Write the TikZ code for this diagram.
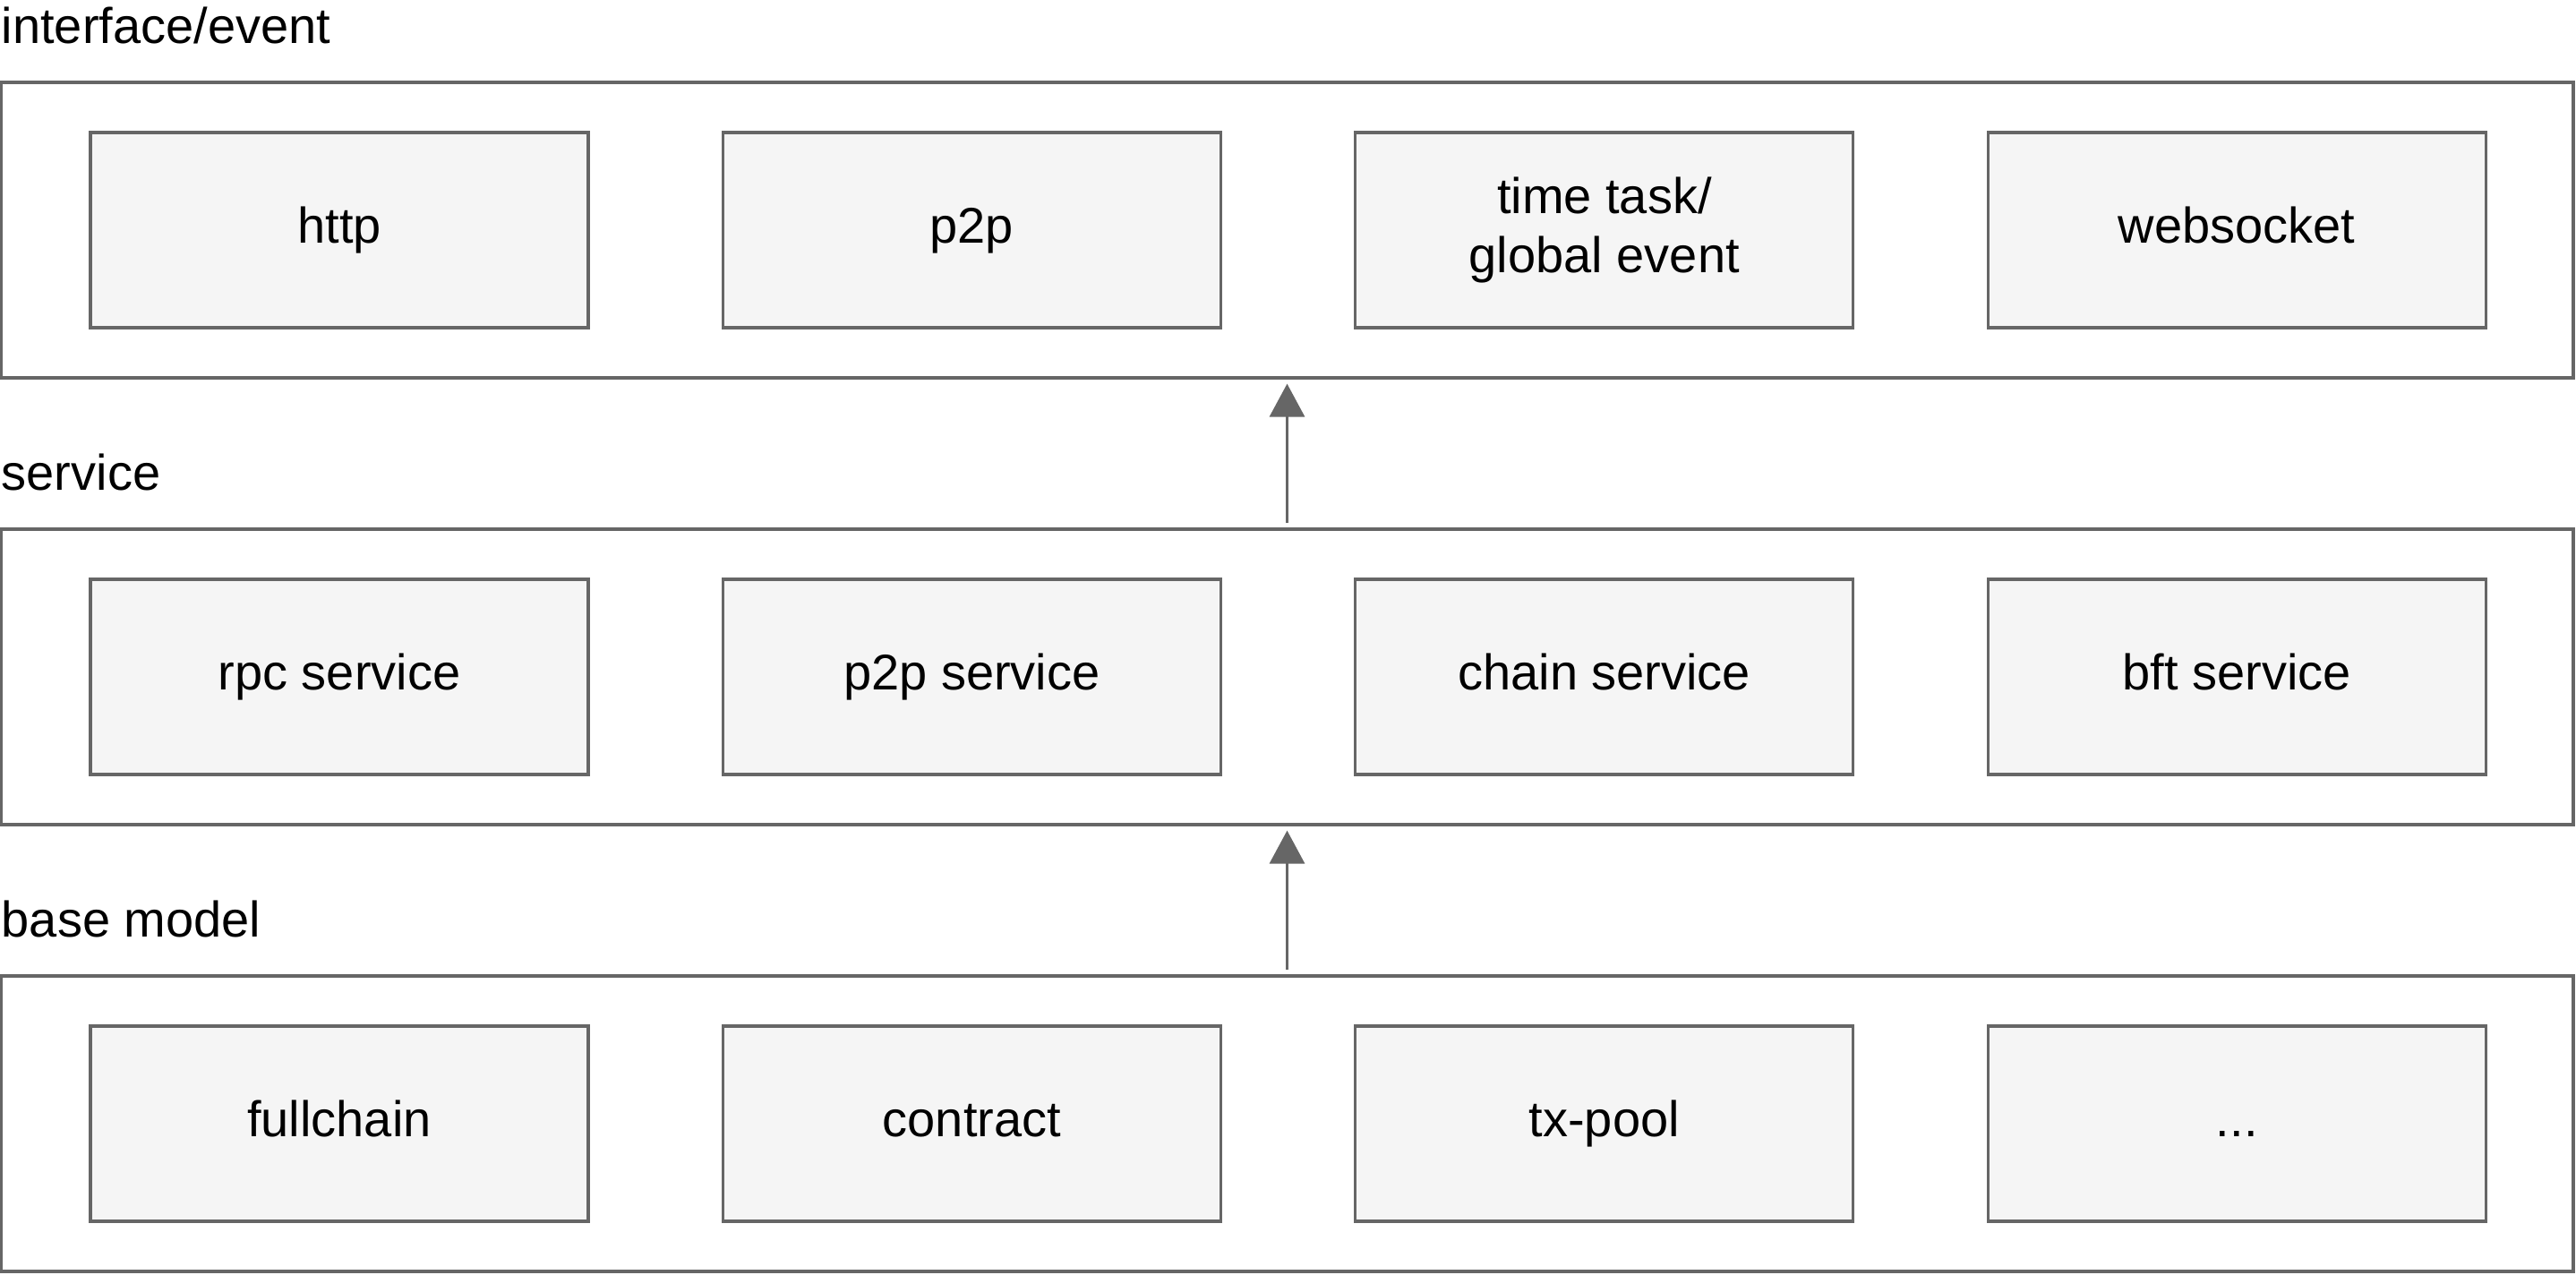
\documentclass[tikz,border=0pt]{standalone}
\usepackage{fontspec}
\setmainfont{Liberation Sans}
\usetikzlibrary{arrows.meta, positioning}

\definecolor{edgegray}{HTML}{666666}
\definecolor{boxfill}{HTML}{F5F5F5}

\begin{document}
\begin{tikzpicture}[
    layer/.style={rectangle, draw=edgegray, line width=1.6pt, minimum width=1436.5pt,
                  minimum height=165pt, inner sep=0pt},
    block/.style={rectangle, draw=edgegray, fill=boxfill, line width=1.6pt,
                  minimum width=278pt, minimum height=109pt, align=center,
                  text height=20pt, text depth=6pt,
                  font=\fontsize{28}{33}\selectfont, inner sep=0pt},
    lbl/.style={font=\fontsize{28}{33}\selectfont, inner sep=0pt, anchor=base west},
    arrow/.style={-{Triangle[length=18.5pt, width=19.5pt]}, draw=edgegray, fill=edgegray,
                  line width=1.6pt, shorten <=2.5pt, shorten >=2.5pt},
]
    \useasboundingbox (0,0) rectangle (1438.5pt,-712pt);

    % --- layers ---
    \node[layer] (event)   at (718.75pt,-128.5pt) {};
    \node[layer] (service) at (718.75pt,-378pt)   {};
    \node[layer] (base)    at (718.75pt,-627.5pt) {};

    \node[lbl] (lblE) at ([xshift=1pt,yshift=21pt]event.north west)   {interface/event};
    \node[lbl] (lblS) at ([xshift=1pt,yshift=21pt]service.north west) {service};
    \node[lbl] (lblB) at ([xshift=1pt,yshift=21pt]base.north west)    {base model};

    % --- interface/event ---
    \node[block, anchor=west] (http) at ([xshift=50pt]event.west) {http};
    \node[block] (p2p)  [right=73.6pt of http] {p2p};
    \node[block, text height=53pt] (task) [right=73.6pt of p2p] {time task/\\global event};
    \node[block] (ws)   [right=73.6pt of task] {websocket};

    % --- service ---
    \node[block, anchor=west] (rpc) at ([xshift=50pt]service.west) {rpc service};
    \node[block] (p2ps)  [right=73.6pt of rpc]   {p2p service};
    \node[block] (chain) [right=73.6pt of p2ps]  {chain service};
    \node[block] (bft)   [right=73.6pt of chain] {bft service};

    % --- base model ---
    \node[block, anchor=west] (full) at ([xshift=50pt]base.west) {fullchain};
    \node[block] (contract) [right=73.6pt of full]     {contract};
    \node[block] (txpool)   [right=73.6pt of contract] {tx-pool};
    \node[block] (more)     [right=73.6pt of txpool]   {...};

    \draw[arrow] (base) -- (service);
    \draw[arrow] (service) -- (event);
\end{tikzpicture}
\end{document}
